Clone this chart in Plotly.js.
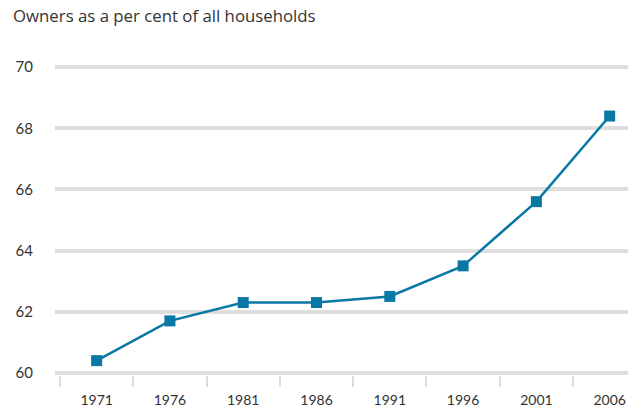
<!DOCTYPE html>
<html>
<head>
<meta charset="utf-8">
<script src="https://cdn.plot.ly/plotly-3.0.1.min.js"></script>
<style>html,body{margin:0;padding:0;background:#fff}#chart{width:635px;height:408px}</style>
</head>
<body>
<div id="chart"></div>
<script>
var years = ['1971','1976','1981','1986','1991','1996','2001','2006'];
var ownersPct = [60.4, 61.7, 62.3, 62.3, 62.5, 63.5, 65.6, 68.4];
var yTicks = [60, 62, 64, 66, 68, 70];
var chartTitle = 'Owners as a per cent of all households';

var FONT = 'Lato, "Open Sans", sans-serif';
var trace = {
  x: years, y: ownersPct, type: 'scatter', mode: 'lines+markers',
  line: {color: '#0a78a5', width: 2.5},
  marker: {symbol: 'square', size: 11, color: '#0a78a5'},
  cliponaxis: false, hoverinfo: 'none'
};
var layout = {
  width: 635, height: 408,
  margin: {l: 55, r: 7, t: 65, b: 33},
  paper_bgcolor: '#fff', plot_bgcolor: '#fff',
  font: {family: FONT, size: 14, color: '#333'},
  showlegend: false,
  title: {text: chartTitle, x: 0, xref: 'container', xanchor: 'left', y: 1, yref: 'container', yanchor: 'top',
          pad: {t: 10, l: 13}, font: {family: '"Open Sans", Lato, sans-serif', size: 16.8, color: '#333'}},
  xaxis: {type: 'category', range: [-0.568, 7.25], showgrid: false, zeroline: false, showline: false,
          ticks: 'outside', tickson: 'boundaries', ticklen: 11, tickwidth: 2, tickcolor: '#dddddd',
          tickfont: {family: FONT, size: 14, color: '#333'}, ticklabelstandoff: 15},
  yaxis: {range: [59.93, 70.07], tickvals: yTicks, showgrid: true, gridcolor: '#dedede', gridwidth: 4,
          zeroline: false, showline: false, ticks: '', ticklabelstandoff: 21,
          tickfont: {family: FONT, size: 15, color: '#333'}}
};
Plotly.newPlot('chart', [trace], layout, {displayModeBar: false, staticPlot: true});
</script>
</body>
</html>
